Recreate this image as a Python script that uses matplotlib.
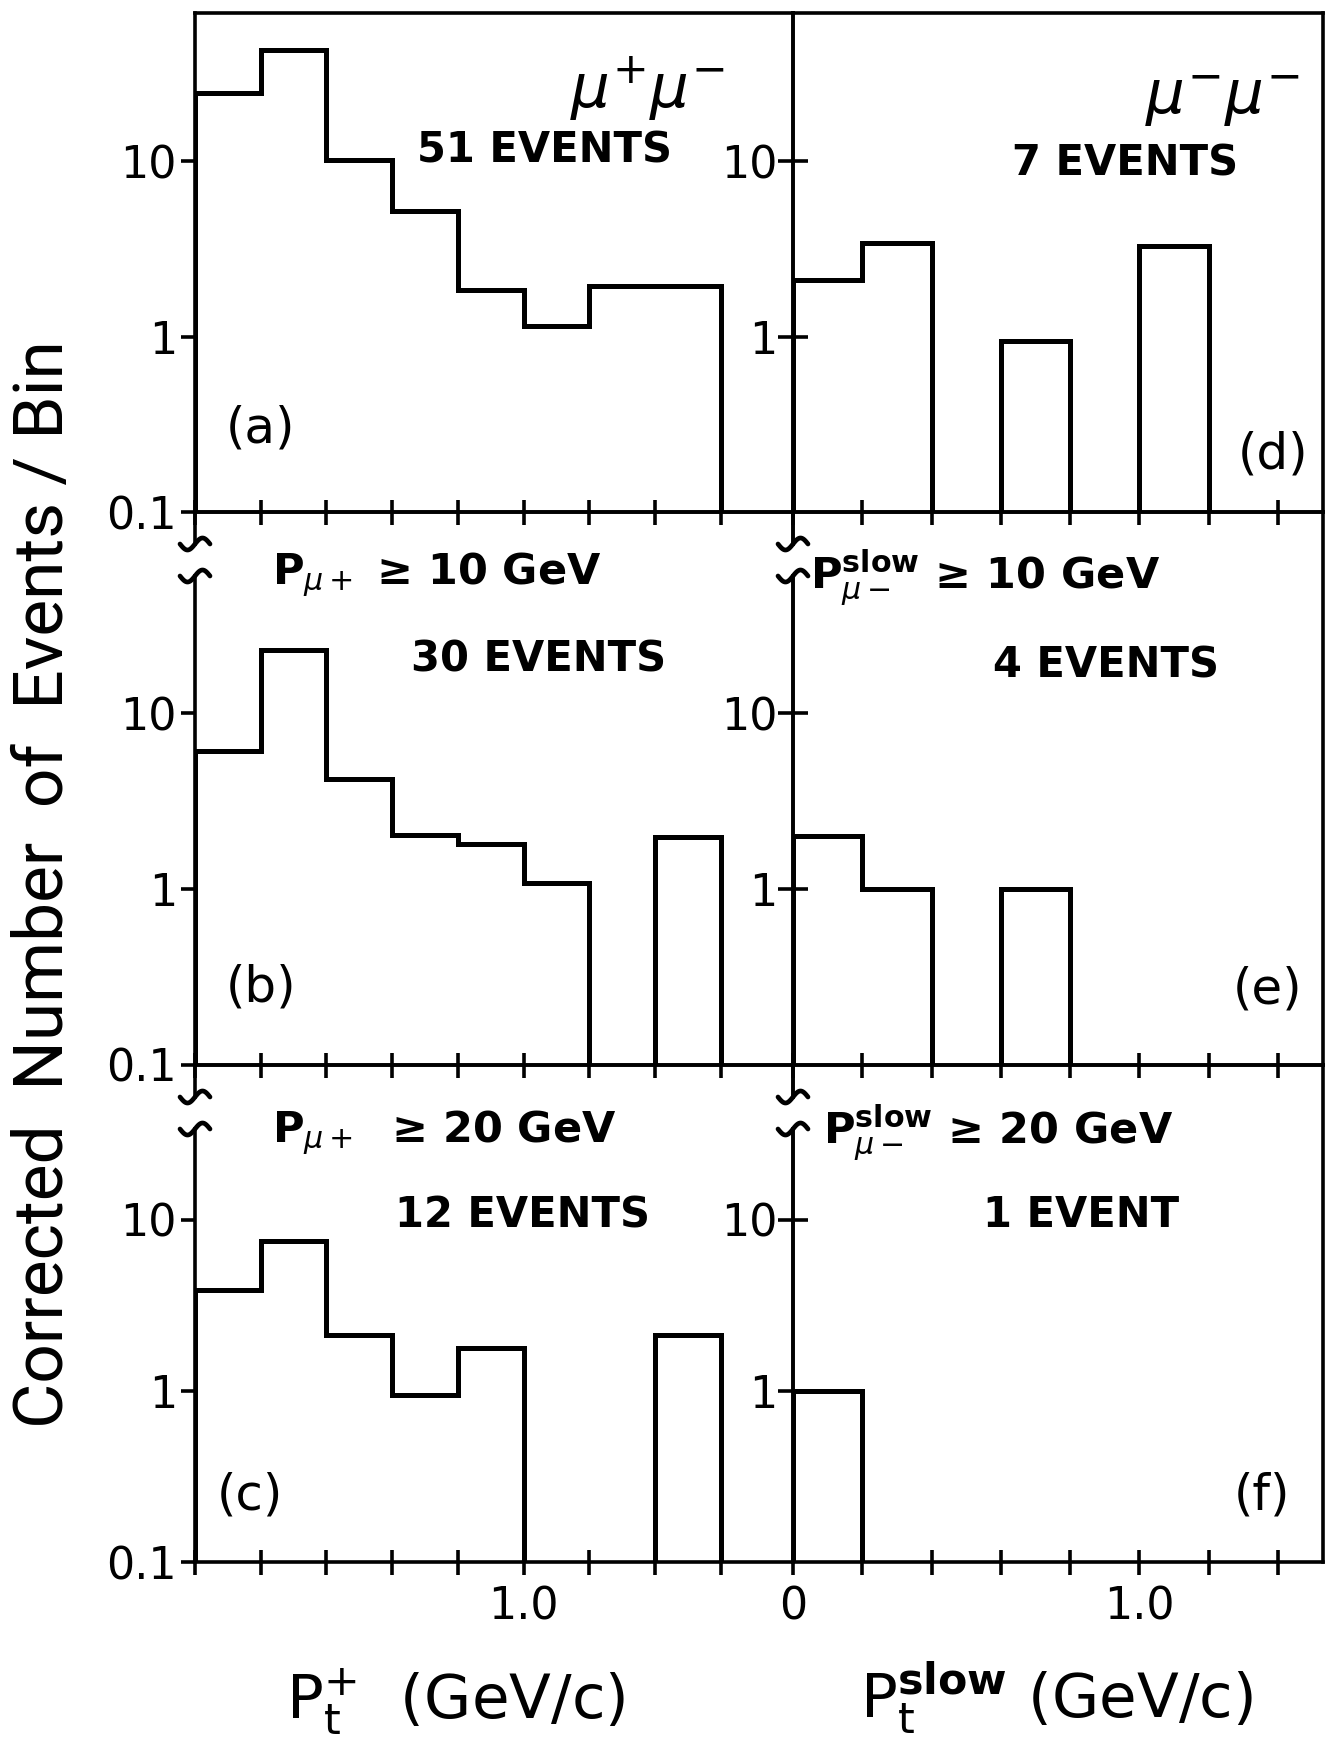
import numpy as np
import matplotlib
matplotlib.use("Agg")
import matplotlib.pyplot as plt
from matplotlib.lines import Line2D
from matplotlib.ticker import NullLocator
from matplotlib import font_manager

plt.rcParams['font.family'] = ['DejaVu Sans']
plt.rcParams['mathtext.fontset'] = 'dejavusans'

# ---------------- data ----------------
edges_plus = [0.0, 0.2, 0.4, 0.6, 0.8, 1.0, 1.2, 1.4, 1.6]
counts_a = [24.5, 43, 10.2, 5.2, 1.85, 1.15, 1.95, 1.95]
counts_b = [6.1, 23, 4.25, 2.03, 1.8, 1.08, 0, 1.98]
counts_c = [3.9, 7.5, 2.13, 0.94, 1.77, 0, 0, 2.13]

edges_slow = [0.0, 0.2, 0.4, 0.6, 0.8, 1.0, 1.2, 1.4]
counts_d = [2.1, 3.4, 0, 0.95, 0, 3.3, 0]
counts_e = [2.0, 1.0, 0, 1.0, 0, 0, 0]
counts_f = [1.0, 0, 0, 0, 0, 0, 0]

event_labels_left = ['51 EVENTS', '30 EVENTS', '12 EVENTS']
event_labels_right = ['7 EVENTS', '4 EVENTS', '1 EVENT']
tags_left = ['(a)', '(b)', '(c)']
tags_right = ['(d)', '(e)', '(f)']
cut_left = [None, r'$\mathbf{P}_{\mu+}$ ≥ 10 GeV', r'$\mathbf{P}_{\mu+}$  ≥ 20 GeV']
cut_right = [None, r'$\mathbf{P}_{\mu-}^{\mathbf{slow}}$ ≥ 10 GeV',
             r'$\mathbf{P}_{\mu-}^{\mathbf{slow}}$ ≥ 20 GeV']

ytick_left = [0.1, 1, 10]
ytick_left_labels = ['0.1', '1', '10']
ytick_right = [1, 10]
ytick_right_labels = ['1', '10']
xtick_left = [0.0, 0.2, 0.4, 0.6, 0.8, 1.0, 1.2, 1.4, 1.6]
xtick_left_labels = ['', '', '', '', '', '1.0', '', '', '']
xtick_right = [0.0, 0.2, 0.4, 0.6, 0.8, 1.0, 1.2, 1.4]
xtick_right_labels = ['0', '', '', '', '', '1.0', '', '']

# ---------------- layout ----------------
W, H = 1340, 1743
fig = plt.figure(figsize=(W / 100, H / 100), dpi=100)
fig.patch.set_facecolor('white')

def fx(px):
    return px / W

def fy(py):
    return 1 - py / H

col_x = [(195, 793), (793, 1323)]
row_y = [(13, 512), (512, 1065), (1065, 1562)]
ylims = [(0.1, 70), (0.1, 140), (0.1, 80)]
xlims = [(0.0, 1.82), (0.0, 1.53)]

LW_H = 3.6
LW_S = 2.6
FLOOR = 1e-3

left_counts = [counts_a, counts_b, counts_c]
right_counts = [counts_d, counts_e, counts_f]

# text positions (axes fraction)
ev_pos_left = [(0.585, 0.725), (0.575, 0.734), (0.548, 0.698)]
ev_pos_right = [(0.627, 0.699), (0.591, 0.723), (0.543, 0.698)]
tag_pos_left = [(0.11, 0.168), (0.11, 0.141), (0.092, 0.133)]
tag_pos_right = [(0.906, 0.116), (0.896, 0.136), (0.885, 0.133)]
cut_pos_left = [None, (0.129, 0.87), (0.129, 0.845)]
cut_pos_right = [None, (0.032, 0.861), (0.057, 0.843)]

for c in range(2):
    x0, x1 = col_x[c]
    for r in range(3):
        y0, y1 = row_y[r]
        ax = fig.add_axes([fx(x0), fy(y1), (x1 - x0) / W, (y1 - y0) / H])
        ax.set_yscale('log')
        ax.set_ylim(*ylims[r])
        ax.set_xlim(*xlims[c])
        edges = edges_plus if c == 0 else edges_slow
        vals = left_counts[r] if c == 0 else right_counts[r]
        vals_plot = [v if v > 0 else FLOOR for v in vals]
        ax.stairs(vals_plot, edges, baseline=FLOOR, color='black',
                  linewidth=LW_H, fill=False, joinstyle='miter')
        for sp in ax.spines.values():
            sp.set_linewidth(LW_S)
            sp.set_color('black')
        ax.yaxis.set_minor_locator(NullLocator())
        ax.xaxis.set_minor_locator(NullLocator())
        # y ticks
        if c == 0:
            ax.set_yticks(ytick_left)
            ax.set_yticklabels(ytick_left_labels)
            ax.tick_params(axis='y', direction='out', length=10, width=LW_S,
                           labelsize=32, pad=3)
        else:
            ax.set_yticks(ytick_right)
            ax.set_yticklabels(ytick_right_labels)
            ax.tick_params(axis='y', direction='inout', length=22, width=LW_S,
                           labelsize=32, pad=0)
        # x ticks
        if c == 0:
            ax.set_xticks(xtick_left)
            labs = xtick_left_labels
        else:
            ax.set_xticks(xtick_right)
            labs = xtick_right_labels
        if r == 2:
            ax.set_xticklabels(labs)
        else:
            ax.set_xticklabels([''] * len(labs))
        ax.tick_params(axis='x', direction='inout', length=18, width=LW_S,
                       labelsize=32, pad=8)
        ax.set_facecolor('none')

        # texts
        if c == 0:
            ex, ey = ev_pos_left[r]
            ax.text(ex, ey, event_labels_left[r], transform=ax.transAxes,
                    ha='center', va='center', fontsize=30, fontweight='bold')
            tx, ty = tag_pos_left[r]
            ax.text(tx, ty, tags_left[r], transform=ax.transAxes,
                    ha='center', va='center', fontsize=36)
            if cut_left[r]:
                cx, cy = cut_pos_left[r]
                ax.text(cx, cy, cut_left[r], transform=ax.transAxes,
                        ha='left', va='baseline', fontsize=31, fontweight='bold')
        else:
            ex, ey = ev_pos_right[r]
            ax.text(ex, ey, event_labels_right[r], transform=ax.transAxes,
                    ha='center', va='center', fontsize=30, fontweight='bold')
            tx, ty = tag_pos_right[r]
            ax.text(tx, ty, tags_right[r], transform=ax.transAxes,
                    ha='center', va='center', fontsize=36)
            if cut_right[r]:
                cx, cy = cut_pos_right[r]
                ax.text(cx, cy, cut_right[r], transform=ax.transAxes,
                        ha='left', va='baseline', fontsize=31, fontweight='bold')
        if r == 0:
            lab = r'$\mu^{+}\mu^{-}$' if c == 0 else r'$\mu^{-}\mu^{-}$'
            pos = (0.756, 0.848) if c == 0 else (0.811, 0.826)
            ax.text(pos[0], pos[1], lab, transform=ax.transAxes,
                    ha='center', va='center', fontsize=44)

# axis-break marks (wavy) on the vertical axes at the top of rows 2 and 3
def tilde(xc, yc):
    t = np.linspace(-1, 1, 40)
    xs = [fx(xc + 15 * v) for v in t]
    ys = [fy(yc - 6 * np.sin(np.pi * v)) for v in t]
    fig.add_artist(Line2D(xs, ys, color='black', lw=3.4,
                          solid_capstyle='round', zorder=10))

for (xa, _) in col_x:
    for (ytop, _) in row_y[1:]:
        fig.add_artist(Line2D([fx(xa), fx(xa)], [fy(ytop + 38), fy(ytop + 58)],
                              color='white', lw=6, zorder=9))
        tilde(xa, ytop + 32)
        tilde(xa, ytop + 64)

# axis labels
fig.text(fx(456), fy(1718), r'$\mathrm{P}_{\mathrm{t}}^{+}$  (GeV/c)',
         ha='center', va='baseline', fontsize=44)
fig.text(fx(1056), fy(1718), r'$\mathrm{P}_{\mathrm{t}}^{\mathbf{slow}}$ (GeV/c)',
         ha='center', va='baseline', fontsize=44)

names = {f.name for f in font_manager.fontManager.ttflist}
if 'Roboto' in names:
    yfont, ysize = 'Roboto', 50
else:
    yfont, ysize = 'DejaVu Sans', 42
fig.text(fx(44), fy(884), 'Corrected  Number  of  Events / Bin',
         rotation=90, ha='center', va='center', fontsize=ysize, family=yfont)

fig.savefig('out.png', dpi=100, facecolor='white')
